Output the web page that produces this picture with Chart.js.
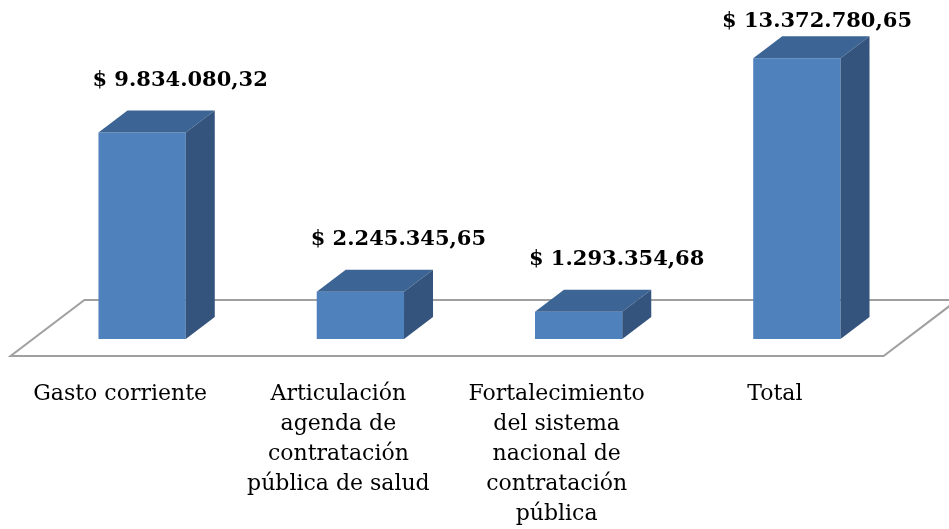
<!DOCTYPE html>
<html>
<head>
<meta charset="utf-8">
<script src="https://cdn.jsdelivr.net/npm/chart.js@4/dist/chart.umd.min.js"></script>
<style>
  body { margin: 0; background: #fff; }
</style>
</head>
<body>
<canvas id="grafico" width="949" height="529"></canvas>
<script>
// Datos del gráfico
const categorias = [
    ['Gasto corriente'],
    ['Articulación', 'agenda de', 'contratación', 'pública de salud'],
    ['Fortalecimiento', 'del sistema', 'nacional de', 'contratación', 'pública'],
    ['Total']
];
const montos = [9834080.32, 2245345.65, 1293354.68, 13372780.65];
const etiquetas = ['$ 9.834.080,32', '$ 2.245.345,65', '$ 1.293.354,68', '$ 13.372.780,65'];

// Profundidad de las barras (efecto 3D)
const PROF_X = 29, PROF_Y = -22;
const FUENTE = '"DejaVu Serif", serif';

const efecto3d = {
    id: 'efecto3d',
    beforeDatasetsDraw(chart) {
        const ctx = chart.ctx;
        const area = chart.chartArea;
        const y0 = chart.scales.y.getPixelForValue(0);
        // el piso queda centrado respecto a la profundidad de la barra
        const fx = -PROF_X * 17 / 22, fy = 17;
        const bx = PROF_X + PROF_X * 17 / 22, by = PROF_Y - 17;
        ctx.save();
        ctx.beginPath();
        ctx.moveTo(area.left + fx, y0 + fy);
        ctx.lineTo(area.right + fx, y0 + fy);
        ctx.lineTo(area.right + bx, y0 + by);
        ctx.lineTo(area.left + bx, y0 + by);
        ctx.closePath();
        ctx.fillStyle = '#ffffff';
        ctx.fill();
        ctx.strokeStyle = '#a0a0a0';
        ctx.lineWidth = 2;
        ctx.stroke();
        ctx.restore();
    },
    afterDatasetsDraw(chart) {
        const ctx = chart.ctx;
        const meta = chart.getDatasetMeta(0);
        const y0 = chart.scales.y.getPixelForValue(0);
        ctx.save();
        meta.data.forEach((bar, i) => {
            const l = bar.x - bar.width / 2, r = bar.x + bar.width / 2, t = bar.y;
            // cara superior
            ctx.beginPath();
            ctx.moveTo(l, t);
            ctx.lineTo(l + PROF_X, t + PROF_Y);
            ctx.lineTo(r + PROF_X, t + PROF_Y);
            ctx.lineTo(r, t);
            ctx.closePath();
            ctx.fillStyle = '#3c6494';
            ctx.fill();
            // cara lateral
            ctx.beginPath();
            ctx.moveTo(r, t);
            ctx.lineTo(r + PROF_X, t + PROF_Y);
            ctx.lineTo(r + PROF_X, y0 + PROF_Y);
            ctx.lineTo(r, y0);
            ctx.closePath();
            ctx.fillStyle = '#34547d';
            ctx.fill();

            // etiqueta de valor
            ctx.font = 'bold 21px ' + FUENTE;
            ctx.fillStyle = '#000';
            ctx.textAlign = 'center';
            ctx.textBaseline = 'middle';
            const w = ctx.measureText(etiquetas[i]).width;
            let cx = bar.x + 38;
            cx = Math.min(cx, chart.width - 37 - w / 2);
            const cy = Math.max(t + PROF_Y - 30, 22);
            ctx.fillText(etiquetas[i], cx, cy);
        });

        // etiquetas de categorías
        ctx.font = '22px ' + FUENTE;
        ctx.fillStyle = '#000';
        ctx.textAlign = 'center';
        ctx.textBaseline = 'alphabetic';
        meta.data.forEach((bar, i) => {
            categorias[i].forEach((linea, k) => {
                ctx.fillText(linea, bar.x - 22, 400 + k * 30);
            });
        });
        ctx.restore();
    }
};

const ctx = document.getElementById('grafico').getContext('2d');
const grafico = new Chart(ctx, {
    type: 'bar',
    data: {
        labels: categorias,
        datasets: [{
            data: montos,
            backgroundColor: '#4f81bd',
            borderWidth: 0,
            categoryPercentage: 0.8,
            barPercentage: 0.5
        }]
    },
    options: {
        responsive: false,
        animation: false,
        devicePixelRatio: 1,
        layout: { padding: { left: 33, right: 43, top: 3, bottom: 190 } },
        plugins: { legend: { display: false }, tooltip: { enabled: false } },
        scales: {
            x: { display: false, offset: true },
            y: { display: false, min: 0, max: 16000000 }
        }
    },
    plugins: [efecto3d]
});
</script>
</body>
</html>
